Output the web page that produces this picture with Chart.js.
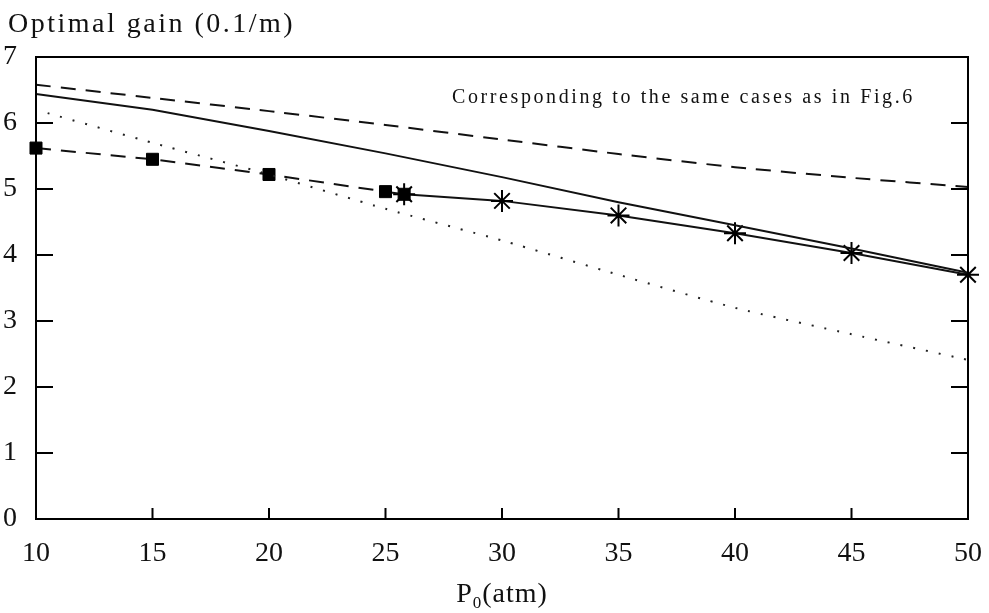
<!DOCTYPE html>
<html>
<head>
<meta charset="utf-8">
<script src="https://cdn.jsdelivr.net/npm/chart.js@4/dist/chart.umd.min.js"></script>
<style>
  html, body { margin: 0; padding: 0; background: #fff; }
  #wrap { width: 989px; height: 613px; }
</style>
</head>
<body>
<div id="wrap"><canvas id="c" width="989" height="613"></canvas></div>
<script>
// pressure P0 (atm)
var pressures = [10, 15, 20, 25, 30, 35, 40, 45, 50];
var solidGain = [6.44, 6.2, 5.88, 5.54, 5.18, 4.8, 4.45, 4.1, 3.73];
var upperDashGain = [6.58, 6.38, 6.18, 5.97, 5.75, 5.53, 5.33, 5.17, 5.03];

var dottedP = [10.5, 15, 20, 25, 30, 35, 40, 45, 50];
var dottedGain = [6.15, 5.7, 5.22, 4.7, 4.22, 3.7, 3.2, 2.8, 2.41];

var squareP = [10, 15, 20, 25, 25.8];
var squareGain = [5.62, 5.45, 5.22, 4.96, 4.92];

var starP = [25.8, 30, 35, 40, 45, 50];
var starGain = [4.92, 4.82, 4.6, 4.33, 4.03, 3.7];

var xTicks = [10, 15, 20, 25, 30, 35, 40, 45, 50];
var yTicks = [0, 1, 2, 3, 4, 5, 6, 7];

var yTitle = 'Optimal gain (0.1/m)';
var note = 'Corresponding to the same cases as in Fig.6';

function pts(xs, ys) {
  var out = [];
  for (var i = 0; i < xs.length; i++) {
    out.push({ x: xs[i], y: ys[i] });
  }
  return out;
}

var serif = '"Liberation Serif", "DejaVu Serif", serif';

// frame, inward ticks and free texts
var framePlugin = {
  id: 'frame',
  afterDraw: function (chart) {
    var ctx = chart.ctx;
    var a = chart.chartArea;
    var xs = chart.scales.x;
    var ys = chart.scales.y;
    ctx.save();
    ctx.strokeStyle = '#000';
    ctx.lineWidth = 2;
    ctx.strokeRect(a.left, a.top, a.right - a.left, a.bottom - a.top);
    ctx.beginPath();
    yTicks.forEach(function (v) {
      var py = ys.getPixelForValue(v);
      ctx.moveTo(a.left, py);
      ctx.lineTo(a.left + 17, py);
      ctx.moveTo(a.right, py);
      ctx.lineTo(a.right - 17, py);
    });
    xTicks.forEach(function (v) {
      var px = xs.getPixelForValue(v);
      ctx.moveTo(px, a.bottom);
      ctx.lineTo(px, a.bottom - 11);
    });
    ctx.stroke();

    ctx.fillStyle = '#111';
    ctx.textBaseline = 'alphabetic';
    ctx.textAlign = 'left';
    ctx.font = '28px ' + serif;
    ctx.letterSpacing = '2.5px';
    ctx.fillText(yTitle, 8, 32);

    ctx.font = '20px ' + serif;
    ctx.letterSpacing = '2.6px';
    ctx.fillText(note, 452, 103);

    // x axis title with subscript
    ctx.letterSpacing = '1px';
    ctx.font = '28px ' + serif;
    var wP = ctx.measureText('P').width;
    var rest = '(atm)';
    var wR = ctx.measureText(rest).width;
    ctx.font = '17px ' + serif;
    var w0 = ctx.measureText('0').width;
    var total = wP + w0 + wR;
    var cx = (a.left + a.right) / 2;
    var x0 = cx - total / 2;
    ctx.font = '28px ' + serif;
    ctx.fillText('P', x0, 602);
    ctx.font = '17px ' + serif;
    ctx.fillText('0', x0 + wP, 608);
    ctx.font = '28px ' + serif;
    ctx.fillText(rest, x0 + wP + w0, 602);
    ctx.restore();
  }
};

new Chart(document.getElementById('c'), {
  type: 'scatter',
  data: {
    datasets: [
      {
        data: pts(pressures, upperDashGain),
        showLine: true, borderColor: '#111', borderWidth: 2,
        borderDash: [15, 10], pointRadius: 0, tension: 0.2, clip: false
      },
      {
        data: pts(pressures, solidGain),
        showLine: true, borderColor: '#111', borderWidth: 2,
        pointRadius: 0, tension: 0, clip: false
      },
      {
        data: pts(dottedP, dottedGain),
        showLine: true, borderColor: '#222', borderWidth: 2,
        borderDash: [2, 11], pointRadius: 0, tension: 0.2, clip: false
      },
      {
        data: pts(squareP, squareGain),
        showLine: true, borderColor: '#111', borderWidth: 2,
        borderDash: [15, 10], pointStyle: 'rect', pointRadius: 8.5,
        pointBackgroundColor: '#000', pointBorderColor: '#000', pointBorderWidth: 1,
        clip: false
      },
      {
        data: pts(starP, starGain),
        showLine: true, borderColor: '#111', borderWidth: 2,
        pointStyle: 'star', pointRadius: 11,
        pointBorderColor: '#000', pointBorderWidth: 2,
        clip: false
      }
    ]
  },
  options: {
    responsive: false,
    animation: false,
    layout: { padding: { left: 0, right: 21, top: 57, bottom: 0 } },
    plugins: { legend: { display: false }, tooltip: { enabled: false } },
    scales: {
      x: {
        type: 'linear', min: 10, max: 50,
        afterFit: function (s) {
          s.height = 94;
          s.paddingLeft = 0;
          s.paddingRight = 0;
        },
        afterBuildTicks: function (s) {
          s.ticks = xTicks.map(function (v) { return { value: v }; });
        },
        grid: { display: false },
        border: { display: false },
        ticks: { color: '#111', font: { family: serif, size: 28 }, padding: 10, maxRotation: 0 }
      },
      y: {
        type: 'linear', min: 0, max: 7,
        afterFit: function (s) {
          s.width = 36;
          s.paddingTop = 0;
          s.paddingBottom = 0;
        },
        afterBuildTicks: function (s) {
          s.ticks = yTicks.map(function (v) { return { value: v }; });
        },
        grid: { display: false },
        border: { display: false },
        ticks: { color: '#111', font: { family: serif, size: 28 }, padding: 11 }
      }
    }
  },
  plugins: [framePlugin]
});
</script>
</body>
</html>
